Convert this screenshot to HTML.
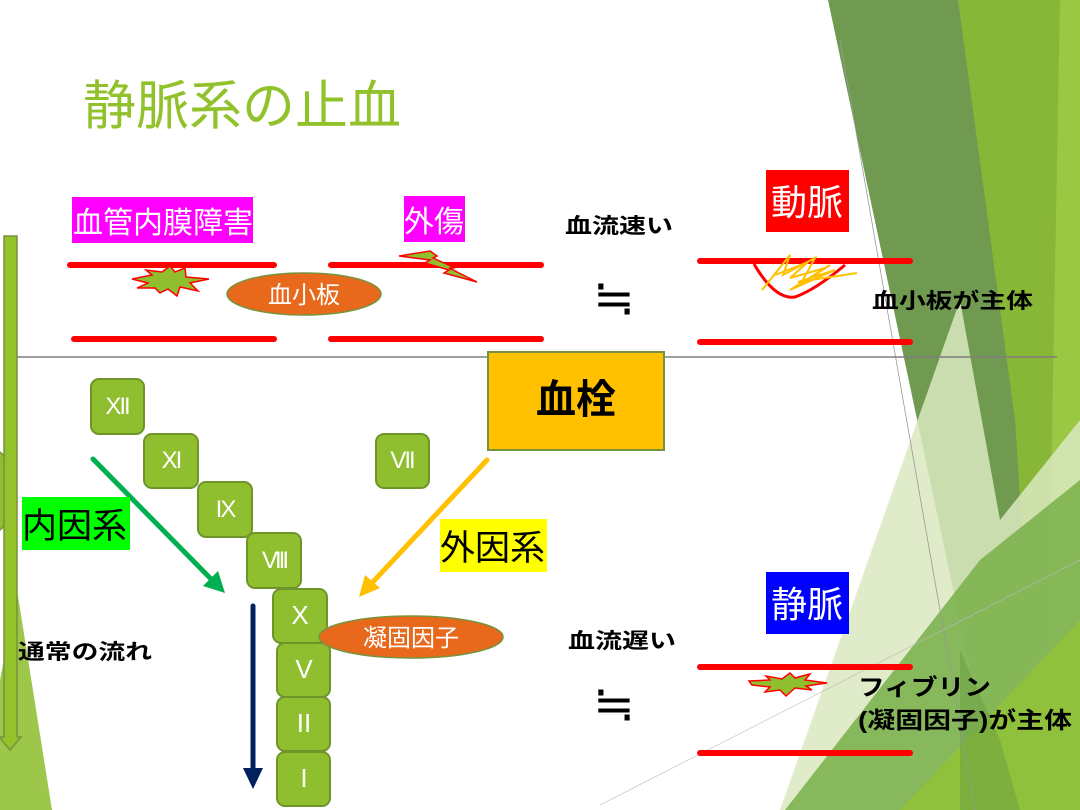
<!DOCTYPE html>
<html><head><meta charset="utf-8"><style>
html,body{margin:0;padding:0;background:#fff;}
svg{display:block;}
text{font-family:"Liberation Sans","Noto Sans CJK JP",sans-serif;}
</style></head><body>
<svg width="1080" height="810" viewBox="0 0 1080 810" xmlns="http://www.w3.org/2000/svg">
<!-- background decorations right -->
<polygon points="958,0 1080,0 1080,810 1010,810" fill="#88b636"/>
<polygon points="1060,0 1080,0 1080,810 1045,810" fill="#9ac842"/>
<polygon points="828,0 958,0 1015,420 1040,810 1000,810" fill="#6f9a50"/>
<polygon points="780,810 960,300 1000,520 1080,420 1080,810" fill="#dbe9c0" opacity="0.85"/>
<polygon points="785,810 980,560 1080,480 1080,810" fill="#7db24f" opacity="0.9"/>
<polygon points="900,810 1080,620 1080,810" fill="#90c13c"/>
<polygon points="960,650 1000,740 1020,810 960,810" fill="#6a9e3f" opacity="0.5"/>
<line x1="840" y1="40" x2="975" y2="810" stroke="#999" stroke-width="0.8"/>
<line x1="600" y1="805" x2="1080" y2="560" stroke="#bbb" stroke-width="0.6"/>
<!-- left decorations -->
<polygon points="17,590 52,810 0,810 0,680" fill="#9cc74a"/>
<path d="M0,452 A14,40 0 0 1 0,530" fill="#8fbf2f" stroke="#77933c" stroke-width="1.5"/>
<polygon points="4,236 17,236 17,737 21,737 10,750 -1,737 4,737" fill="#93c22a" stroke="#77933c" stroke-width="1.5"/>
<!-- title -->
<text x="83" y="124" font-size="53" fill="#92c22b">静脈系の止血</text>
<!-- gray divider -->
<line x1="17" y1="357" x2="1057" y2="357" stroke="#7f7f7f" stroke-width="1.5"/>
<!-- red vessel lines -->
<g stroke="#ff0000" stroke-width="6" stroke-linecap="round">
<line x1="70" y1="265" x2="274" y2="265"/>
<line x1="74" y1="339" x2="274" y2="339"/>
<line x1="331" y1="265" x2="541" y2="265"/>
<line x1="331" y1="339" x2="541" y2="339"/>
<line x1="700" y1="261" x2="910" y2="261"/>
<line x1="700" y1="342" x2="910" y2="342"/>
<line x1="700" y1="667" x2="910" y2="667"/>
<line x1="700" y1="753" x2="910" y2="753"/>
</g>
<!-- labels boxes -->
<rect x="72" y="197" width="181" height="46" fill="#ff00ff"/>
<text x="73" y="233" font-size="30" fill="#fff">血管内膜障害</text>
<rect x="404" y="196" width="61" height="46" fill="#ff00ff"/>
<text x="404" y="232" font-size="30" fill="#fff">外傷</text>
<!-- explosion 1 -->
<polygon points="132,279 152,275 146,270 162,272 170,266 175,272 185,268 186,277 209,279 190,283 198,291 180,287 177,296 168,289 160,293 155,288 137,288 148,283" fill="#8fbf2f" stroke="#ff0000" stroke-width="1.5"/>
<!-- lightning -->
<polygon points="399,256 430,251 437,256 433,258 455,268 449,268 477,282 444,273 449,270 425,263 430,260" fill="#8fbf2f" stroke="#ff0000" stroke-width="1.5"/>
<!-- platelet ellipse -->
<ellipse cx="304" cy="294" rx="77" ry="21" fill="#e8681c" stroke="#77933c" stroke-width="1.5"/>
<text x="304" y="303" font-size="24" fill="#fff" text-anchor="middle">血小板</text>
<!-- artery -->
<rect x="766" y="170" width="83" height="62" fill="#ff0000"/>
<text x="807" y="215" font-size="36" fill="#fff" text-anchor="middle">動脈</text>
<path d="M754,264 Q775,300 795,297 Q815,290 845,265" fill="none" stroke="#ff0000" stroke-width="3"/>
<path d="M762,290 L790,255 L783,275 L815,258 L800,285 L830,265 L790,290 L835,270 L798,282 L857,273 M775,275 L808,262 L790,278 L825,268" fill="none" stroke="#ffc000" stroke-width="2"/>
<text x="565" y="233" font-size="21" font-weight="bold" fill="#000" textLength="108" lengthAdjust="spacingAndGlyphs">血流速い</text>
<text x="614" y="315" font-size="50" fill="#000" text-anchor="middle">≒</text>
<text x="872" y="308" font-size="21" font-weight="bold" fill="#000" textLength="161" lengthAdjust="spacingAndGlyphs">血小板が主体</text>
<!-- thrombus box -->
<rect x="488" y="352" width="176" height="98" fill="#ffc000" stroke="#77933c" stroke-width="2"/>
<text x="576" y="413" font-size="40" font-weight="bold" fill="#000" text-anchor="middle">血栓</text>
<!-- factor boxes -->
<g fill="#8fbf2f" stroke="#6f942a" stroke-width="2">
<rect x="91" y="379" width="53" height="55" rx="8"/>
<rect x="144" y="434" width="54" height="54" rx="8"/>
<rect x="198" y="482" width="54" height="55" rx="8"/>
<rect x="247" y="533" width="54" height="55" rx="8"/>
<rect x="376" y="434" width="53" height="54" rx="8"/>
<rect x="277" y="752" width="53" height="54" rx="8"/>
<rect x="277" y="697" width="53" height="54" rx="8"/>
<rect x="277" y="643" width="53" height="54" rx="8"/>
<rect x="273" y="589" width="54" height="54" rx="8"/>
</g>
<g fill="#fff" font-size="24" text-anchor="middle" font-family="Liberation Serif,serif">
<text x="117" y="414" style="letter-spacing:-2px">XII</text>
<text x="171" y="468" style="letter-spacing:-2px">XI</text>
<text x="225" y="517" style="letter-spacing:-2px">IX</text>
<text x="274" y="568" style="letter-spacing:-3px">VIII</text>
<text x="402" y="468" style="letter-spacing:-2px">VII</text>
</g>
<g fill="#fff" font-size="26" text-anchor="middle">
<text x="300" y="624">X</text>
<text x="304" y="678">V</text>
<text x="304" y="732">II</text>
<text x="304" y="787">I</text>
</g>
<!-- arrows -->
<line x1="93" y1="459" x2="212" y2="580" stroke="#00b050" stroke-width="5" stroke-linecap="round"/>
<polygon points="225,593 203,586 218,571" fill="#00b050"/>
<line x1="487" y1="460" x2="370" y2="585" stroke="#ffc000" stroke-width="5" stroke-linecap="round"/>
<polygon points="359,597 365,575 380,588" fill="#ffc000"/>
<line x1="253" y1="606" x2="253" y2="772" stroke="#002060" stroke-width="5" stroke-linecap="round"/>
<polygon points="243,768 263,768 253,789" fill="#002060"/>
<!-- inner/outer labels -->
<rect x="22" y="497" width="108" height="53" fill="#00ff00"/>
<text x="22" y="538" font-size="35" fill="#000">内因系</text>
<rect x="440" y="519" width="107" height="53" fill="#ffff00"/>
<text x="440" y="560" font-size="35" fill="#000">外因系</text>
<text x="18" y="659" font-size="21" font-weight="bold" fill="#000" textLength="134" lengthAdjust="spacingAndGlyphs">通常の流れ</text>
<!-- coag factor ellipse -->
<ellipse cx="411" cy="637" rx="92" ry="21" fill="#e8681c" stroke="#77933c" stroke-width="1.5"/>
<text x="411" y="646" font-size="24" fill="#fff" text-anchor="middle">凝固因子</text>
<!-- vein -->
<rect x="766" y="572" width="83" height="62" fill="#0000ff"/>
<text x="807" y="617" font-size="36" fill="#fff" text-anchor="middle">静脈</text>
<polygon points="749,681 770,680 766,676 782,679 790,673 795,678 810,674 805,680 827,683 806,686 812,690 795,688 786,696 780,690 765,692 770,687 752,685" fill="#8fbf2f" stroke="#ff0000" stroke-width="1.5"/>
<text x="568" y="648" font-size="21" font-weight="bold" fill="#000" textLength="108" lengthAdjust="spacingAndGlyphs">血流遅い</text>
<text x="614" y="721" font-size="50" fill="#000" text-anchor="middle">≒</text>
<text x="858" y="695" font-size="23" font-weight="bold" fill="#000" textLength="133" lengthAdjust="spacingAndGlyphs">フィブリン</text>
<text x="858" y="728" font-size="23" font-weight="bold" fill="#000" textLength="214" lengthAdjust="spacingAndGlyphs">(凝固因子)が主体</text>
</svg>
</body></html>
